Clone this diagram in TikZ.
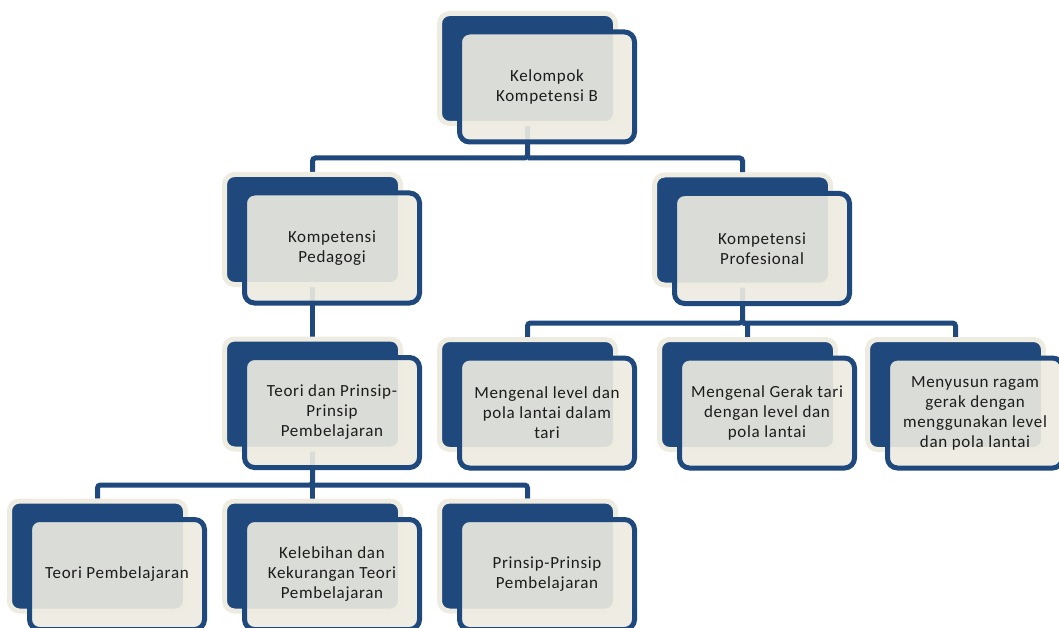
\documentclass[tikz,border=0pt]{standalone}
\usepackage{fontspec}
\setmainfont{Carlito}[LetterSpace=4]
\usepackage{tikz}
\usetikzlibrary{calc, positioning}
\definecolor{cardblue}{HTML}{1F497D}
\definecolor{cardcream}{HTML}{EEECE1}
\definecolor{cardtext}{HTML}{1C1C1C}
\def\shiftx{19.5pt}
\def\shifty{-18.5pt}
\tikzset{back/.style={rectangle, rounded corners=10pt, fill=cardblue, draw=cardcream, line width=5pt, minimum width=176pt, minimum height=110pt, inner sep=0pt}}
\tikzset{front/.style={rectangle, rounded corners=10pt, fill=cardcream, fill opacity=0.9, text opacity=1, draw=cardblue, line width=5pt, minimum width=175pt, minimum height=110pt, inner sep=0pt, align=center, text=cardtext, font=\fontsize{17}{20}\selectfont}}
\tikzset{link/.style={cardblue, line width=5pt, rounded corners=3pt}}
\pgfdeclarelayer{bg}
\pgfsetlayers{bg,main}

\begin{document}
\begin{tikzpicture}[x=1pt, y=-1pt]
        \useasboundingbox (0,0) rectangle (1059,628);
        % Cards: back box, then front box with the text
        \foreach \name/\cx/\cy/\txt in {
          top/527.5/68.5/{Kelompok\\Kompetensi B},
          ped/312.5/229.5/{Kompetensi\\Pedagogi},
          prof/742.5/230/{Kompetensi\\Profesional},
          tp/312.5/394/{Teori dan Prinsip-\\Prinsip\\Pembelajaran},
          lvl/527.5/394.5/{Mengenal level dan\\pola lantai dalam\\tari},
          grk/747.5/394.5/{Mengenal Gerak tari\\dengan level dan\\pola lantai},
          rgm/955.5/394.5/{Menyusun ragam\\gerak dengan\\menggunakan level\\dan pola lantai},
          tpb/97.5/556/{Teori Pembelajaran},
          kel/312.5/556/{Kelebihan dan\\Kekurangan Teori\\Pembelajaran},
          pp/527.5/556/{Prinsip-Prinsip\\Pembelajaran}%
        } {
          \node[back] (\name-b) at (\cx,\cy) {};
          \node[front] (\name) at ([xshift=\shiftx, yshift=\shifty]\name-b.center) {\txt};
        }
        % Connectors, kept behind the cards
        \coordinate (bar0) at (0,158);
        \coordinate (bar1) at (0,323);
        \coordinate (bar2) at (0,485);
        \begin{pgfonlayer}{bg}
          \fill[white] (0,0) rectangle (1059,628);
          \draw[link] (top-b.center) -- (top-b.center |- bar0) -| (ped-b.north);
          \draw[link] (top-b.center |- bar0) -| (prof-b.north);
          \draw[link] (ped-b.center) -- (tp-b.north);
          \draw[link] (prof-b.center) -- (prof-b.center |- bar1) -| (lvl-b.north);
          \draw[link] (prof-b.center |- bar1) -| (grk-b.north);
          \draw[link] (prof-b.center |- bar1) -| (rgm-b.north);
          \draw[link] (tp-b.center) -- (tp-b.center |- bar2) -| (tpb-b.north);
          \draw[link] (tp-b.center |- bar2) -| (kel-b.north);
          \draw[link] (tp-b.center |- bar2) -| (pp-b.north);
        \end{pgfonlayer}
\end{tikzpicture}
\end{document}
